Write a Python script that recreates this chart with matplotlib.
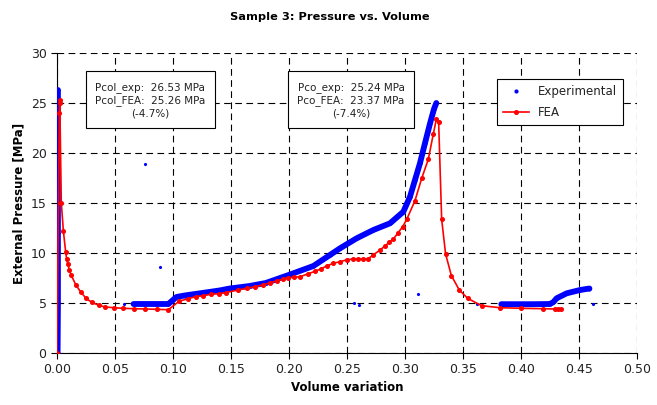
import matplotlib
matplotlib.use("Agg")
import matplotlib.pyplot as plt
import numpy as np
from matplotlib.lines import Line2D

# Experimental: main traces (segments separated by NaN)
exp_x = [0.0005, 0.0008, 0.0008, 0.0008, 0.0008, 0.0008, np.nan,
         0.0660, 0.0750, 0.0850, 0.0960, 0.1000, 0.1030, 0.1100, 0.1233, 0.1400,
         0.1490, 0.1660, 0.1800, 0.2009, 0.2210, 0.2353, 0.2440, 0.2583, 0.2727,
         0.2871, 0.2986, 0.3043, 0.3086, 0.3129, 0.3172, 0.3216, 0.3250, 0.3270, np.nan,
         0.3830, 0.3950, 0.4100, 0.4250, 0.4280, 0.4307, 0.4394, 0.4509, 0.4590]
exp_y = [0.0, 5.0, 12.0, 20.0, 25.0, 26.3, np.nan,
         4.90, 4.90, 4.90, 4.90, 5.30, 5.60, 5.75, 5.97, 6.25,
         6.45, 6.70, 7.00, 7.85, 8.70, 9.80, 10.47, 11.47, 12.30,
         12.97, 14.13, 15.63, 17.30, 18.97, 20.97, 22.97, 24.40, 25.00, np.nan,
         4.88, 4.88, 4.88, 4.90, 5.10, 5.47, 5.97, 6.30, 6.45]

# Experimental: isolated points
iso_x = [0.0578, 0.0759, 0.0890, 0.2560, 0.2606, 0.3115, 0.3623, 0.4618]
iso_y = [4.90, 18.87, 8.60, 4.97, 4.80, 5.90, 4.87, 4.87]

# FEA
fea_x = [0.0000, 0.0020, 0.0022, 0.0024, 0.0037, 0.0055, 0.0075, 0.0083, 0.0095,
         0.0106, 0.0123, 0.0164, 0.0207, 0.0250, 0.0299, 0.0360, 0.0417, 0.0489,
         0.0569, 0.0664, 0.0761, 0.0859, 0.0960, 0.1052, 0.1129, 0.1195, 0.1260,
         0.1325, 0.1397, 0.1454, 0.1560, 0.1635, 0.1707, 0.1773, 0.1836, 0.1894,
         0.1945, 0.1994, 0.2043, 0.2095, 0.2167, 0.2224, 0.2273, 0.2325, 0.2382,
         0.2440, 0.2503, 0.2554, 0.2597, 0.2635, 0.2678, 0.2727, 0.2784, 0.2828,
         0.2865, 0.2900, 0.2937, 0.2980, 0.3015, 0.3086, 0.3144, 0.3201, 0.3244,
         0.3270, 0.3290, 0.3316, 0.3350, 0.3400, 0.3468, 0.3540, 0.3660, 0.3819,
         0.4000, 0.4187, 0.4293, 0.4320, 0.4345]
fea_y = [0.00, 24.0, 25.0, 25.26, 15.03, 12.20, 10.07, 9.40, 8.87,
         8.33, 7.77, 6.77, 6.07, 5.47, 5.07, 4.77, 4.60, 4.53,
         4.47, 4.43, 4.40, 4.37, 4.33, 5.17, 5.43, 5.63, 5.73,
         5.87, 5.93, 6.03, 6.30, 6.47, 6.63, 6.80, 7.03, 7.20,
         7.37, 7.53, 7.57, 7.63, 7.93, 8.17, 8.40, 8.70, 8.97,
         9.13, 9.33, 9.40, 9.40, 9.40, 9.40, 9.80, 10.30, 10.70,
         11.10, 11.40, 11.97, 12.63, 13.37, 15.23, 17.47, 19.37, 21.90,
         23.37, 23.10, 13.37, 9.90, 7.73, 6.30, 5.47, 4.73, 4.53,
         4.47, 4.43, 4.40, 4.40, 4.40]

xticks = [0.00, 0.05, 0.10, 0.15, 0.20, 0.25, 0.30, 0.35, 0.40, 0.45, 0.50]
yticks = [0, 5, 10, 15, 20, 25, 30]

plt.rcParams['font.family'] = ['DejaVu Sans']

fig = plt.figure(figsize=(6.57, 4.05), dpi=100)
ax = fig.add_axes([57/657, 1-353/405, 580/657, 300/405])

ax.plot(exp_x, exp_y, color='#0000ff', lw=4.2, marker='.', ms=4,
        solid_capstyle='round', solid_joinstyle='round', zorder=3)
ax.plot(iso_x, iso_y, ls='none', color='#0000ff', marker='.', ms=2.5, zorder=3)
ax.plot(fea_x, fea_y, color='#ff0000', lw=1.2, marker='o', ms=2.6, zorder=4)

ax.set_xlim(0, 0.5)
ax.set_ylim(0, 30)
ax.set_xticks(xticks)
ax.set_yticks(yticks)
ax.set_xticklabels([f"{v:.2f}" for v in xticks], fontsize=9, color='#222222')
ax.set_yticklabels([str(v) for v in yticks], fontsize=9, color='#222222')
ax.tick_params(direction='out', length=4, width=0.8, colors='black',
               labelcolor='#222222')
ax.spines['top'].set_visible(False)
ax.spines['right'].set_visible(False)
ax.grid(True, color='black', ls=(0, (6, 4)), lw=0.8)
ax.set_axisbelow(True)

ax.set_xlabel('Volume variation', fontsize=8.5, fontweight='bold', labelpad=3)
ax.set_ylabel('External Pressure [MPa]', fontsize=8.5, fontweight='bold', labelpad=4)
fig.text(330/657, 1-17/405, 'Sample 3: Pressure vs. Volume', ha='center', va='center',
         fontsize=8.2, fontweight='bold')

bbox = dict(boxstyle='square,pad=0.9', fc='white', ec='black', lw=0.8)
fig.text(150/657, 1-100/405, 'Pcol_exp:  26.53 MPa\nPcol_FEA:  25.26 MPa\n(-4.7%)',
         ha='center', va='center', fontsize=7.5, linespacing=1.3, bbox=bbox,
         color='#222222', zorder=5)
fig.text(351/657, 1-100/405, 'Pco_exp:  25.24 MPa\nPco_FEA:  23.37 MPa\n(-7.4%)',
         ha='center', va='center', fontsize=7.5, linespacing=1.3, bbox=bbox,
         color='#222222', zorder=5)

handles = [Line2D([], [], ls='none', marker='.', ms=4, color='#0000ff'),
           Line2D([], [], color='#ff0000', lw=1.2, marker='o', ms=2.6)]
leg = ax.legend(handles, ['Experimental', 'FEA'], loc='upper left',
                bbox_to_anchor=((491-57)/580, (353-73)/300), fontsize=8.5,
                frameon=True, fancybox=False, edgecolor='black', framealpha=1,
                borderpad=0.5, handlelength=2.2, labelspacing=0.7)
leg.get_frame().set_linewidth(0.8)
for t in leg.get_texts():
    t.set_color('#222222')

fig.savefig('out.png', dpi=100)
